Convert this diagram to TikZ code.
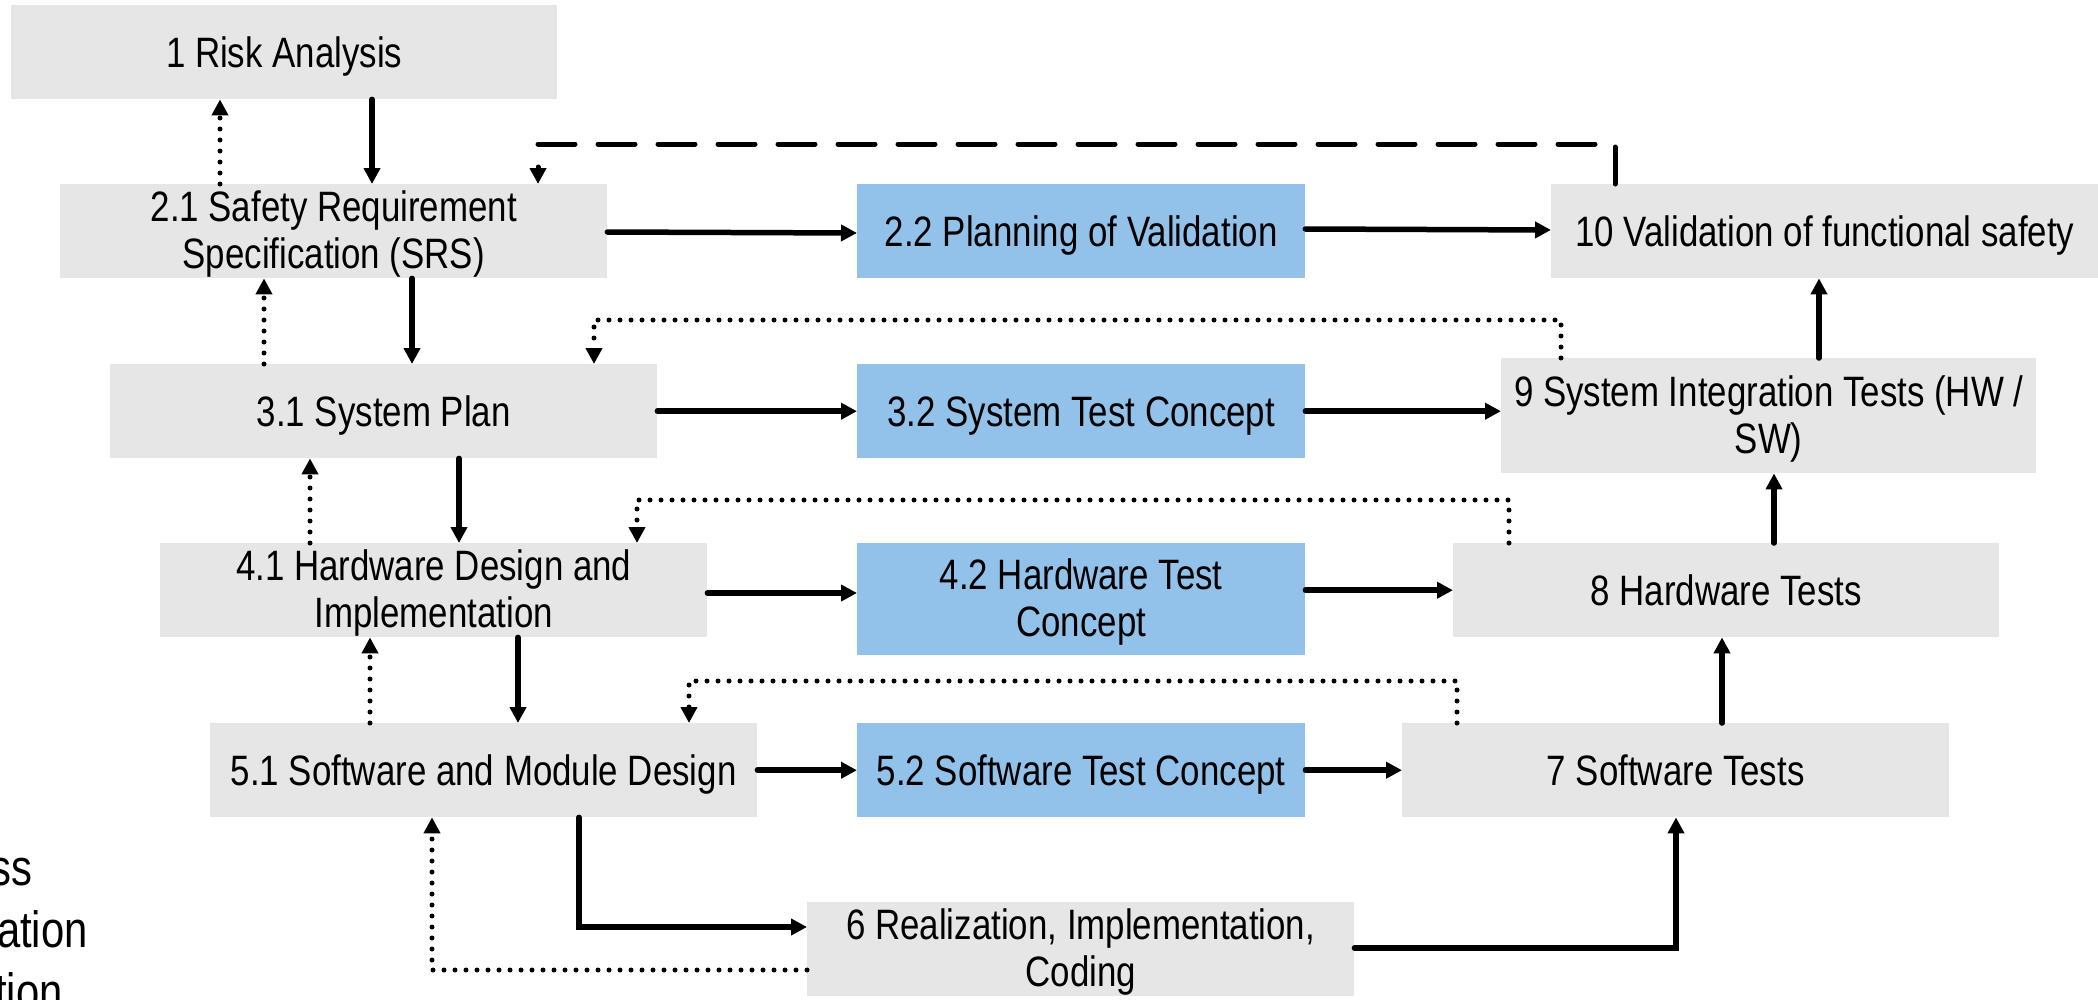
\documentclass[tikz,border=0pt]{standalone}
\usepackage{fontspec}
\newfontfamily\boxfont{Liberation Sans}[FakeStretch=0.82]
\usetikzlibrary{arrows.meta,calc}
\definecolor{boxgray}{RGB}{230,230,230}
\definecolor{boxblue}{RGB}{146,193,233}
% struts that centre the cap height of each label in its box
\newcommand\capline{\rule[-9pt]{0pt}{49pt}}
\newcommand\firstline{\rule{0pt}{37pt}}
\newcommand\lastline{\rule[-8pt]{0pt}{8pt}}
\tikzset{
  stage/.style={fill=boxgray, draw=none, inner sep=0pt, align=center, anchor=north west,
    font=\boxfont\fontsize{42.5}{47}\selectfont},
  testconcept/.style={stage, fill=boxblue},
  flow/.style={line width=5.5pt, line cap=round, -{Triangle[length=16pt,width=16pt]}},
  back/.style={line width=5pt, line cap=round, dash pattern=on 0pt off 11pt,
    -{Triangle[length=16pt,width=16pt]}},
  loop/.style={line width=5pt, line cap=round, dash pattern=on 37pt off 23pt,
    -{Triangle[length=16pt,width=16pt]}},
  sidetext/.style={anchor=base east, inner sep=0pt, font=\boxfont\fontsize{51}{56}\selectfont},
}
\begin{document}
\begin{tikzpicture}[x=1pt, y=-1pt]
\useasboundingbox (0,0) rectangle (2098,999);
\clip (0,0) rectangle (2098,999);

% left-hand list, partly hidden at the edge
\node[sidetext] (s1) at (33,885) {ss};
\node[sidetext] (s2) at (88,947) {ation};
\node[sidetext] (s3) at (63,1009) {tion};

% design side
\node[stage, minimum width=546pt, minimum height=94pt] (n1) at (11,5) {\capline 1 Risk Analysis};
\node[stage, minimum width=547pt, minimum height=94pt] (n21) at (60,184) {\firstline 2.1 Safety Requirement\\Specification (SRS)\lastline};
\node[stage, minimum width=547pt, minimum height=94pt] (n31) at (110,364) {\capline 3.1 System Plan};
\node[stage, minimum width=547pt, minimum height=94pt] (n41) at (160,543) {\firstline 4.1 Hardware Design and\\Implementation\lastline};
\node[stage, minimum width=547pt, minimum height=94pt] (n51) at (210,723) {\capline 5.1 Software and Module Design};
\node[stage, minimum width=547pt, minimum height=94pt] (n6) at (807,902) {\firstline 6 Realization, Implementation,\\Coding\lastline};

% test concepts
\node[testconcept, minimum width=448pt, minimum height=94pt] (n22) at (857,184) {\capline 2.2 Planning of Validation};
\node[testconcept, minimum width=448pt, minimum height=94pt] (n32) at (857,364) {\capline 3.2 System Test Concept};
\node[testconcept, minimum width=448pt, minimum height=112pt] (n42) at (857,543) {\firstline 4.2 Hardware Test\\Concept\lastline};
\node[testconcept, minimum width=448pt, minimum height=94pt] (n52) at (857,723) {\capline 5.2 Software Test Concept};

% test side
\node[stage, minimum width=547pt, minimum height=94pt] (n10) at (1551,184) {\capline 10 Validation of functional safety};
\node[stage, minimum width=535pt, minimum height=115pt] (n9) at (1501,358) {\firstline 9 System Integration Tests (HW /\\SW)\lastline};
\node[stage, minimum width=546pt, minimum height=94pt] (n8) at (1453,543) {\capline 8 Hardware Tests};
\node[stage, minimum width=547pt, minimum height=94pt] (n7) at (1402,723) {\capline 7 Software Tests};

% downward refinement
\draw[flow] (n1.south -| 372,0) -- (n21.north -| 372,0);
\draw[flow] (n21.south -| 412,0) -- (n31.north -| 412,0);
\draw[flow] (n31.south -| 459,0) -- (n41.north -| 459,0);
\draw[flow] (n41.south -| 518,0) -- (n51.north -| 518,0);

% upward feedback between design steps
\draw[back] (n21.north -| 220,0) -- (n1.south -| 220,0);
\draw[back] (n31.north -| 264,0) -- (n21.south -| 264,0);
\draw[back] (n41.north -| 310,0) -- (n31.south -| 310,0);
\draw[back] (n51.north -| 370,0) -- (n41.south -| 370,0);

% design -> test concept -> test
\draw[flow] (n21.east |- 0,232) -- (n22.west |- 0,233);
\draw[flow] (n22.east |- 0,229) -- (n10.west |- 0,230);
\draw[flow] (n31.east) -- (n32.west);
\draw[flow] (n32.east) -- (n32.east -| n9.west);
\draw[flow] (n41.east |- 0,593) -- (n42.west |- 0,593);
\draw[flow] (n42.east |- n8.west) -- (n8.west);
\draw[flow] (n51.east) -- (n52.west);
\draw[flow] (n52.east) -- (n7.west);

% integration upward
\draw[flow] (n9.north -| 1819,0) -- (n10.south -| 1819,0);
\draw[flow] (n8.north -| 1774,0) -- (n9.south -| 1774,0);
\draw[flow] (n7.north -| 1722,0) -- (n8.south -| 1722,0);

% test results back to design
\draw[back] (n9.north -| 1561,0) |- (594,320) -- (n31.north -| 594,0);
\draw[back] (n8.north -| 1509,0) |- (637,500) -- (n41.north -| 637,0);
\draw[back] (n7.north -| 1457,0) |- (689,681) -- (n51.north -| 689,0);

% validation loop
\draw[loop] (n10.north -| 1615,0) |- (538,144) -- (n21.north -| 538,0);

% realization
\draw[flow] (n51.south -| 579,0) |- (n6.west |- 0,927);
\draw[back] (n6.west |- 0,970) -| (n51.south -| 432,0);
\draw[flow] (n6.east |- 0,948) -| (n7.south -| 1676,0);
\end{tikzpicture}
\end{document}
